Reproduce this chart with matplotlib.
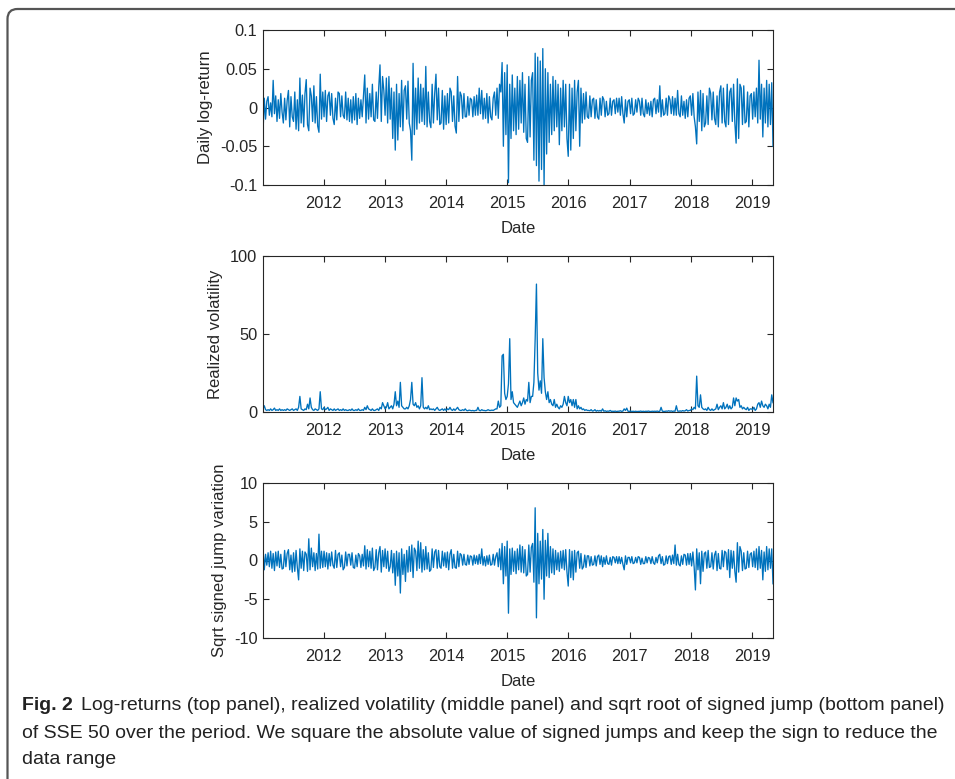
import numpy as np
import pandas as pd
import matplotlib
matplotlib.use("Agg")
import matplotlib.pyplot as plt
from matplotlib.path import Path
from matplotlib.patches import PathPatch

# ---------------- data (weekly samples) ----------------
start_date = "2011-01-04"
end_date = "2019-05-06"

# daily log-return, in units of 0.001
returns_milli = [
    # 2011
    -33, 12, -15, 8, 14, -10, 6, -12, 35, -8, 15, -18, 10, -14, 18, -6,
    -20, 12, -16, 9, 22, -25, 14, -12, -18, 20, -28, 10, -30, 38, -20, 16,
    -25, 18, 36, -22, -30, 25, 15, -18, 28, -20, 14, -24, -32, 43, -15, 20,
    # 2012
    -12, 22, -18, 15, 20, -10, 18, -14, -22, 12, -16, 20, 18, -12, 15, -10,
    -14, 20, -16, 12, -18, 10, -20, 14, -16, 18, -22, 12, -14, 10, -12, 16,
    42, -20, 25, -15, 18, -12, 30, -16, -18, 20, -14, 26, 55, -18, 40, 22,
    # 2013
    -10, 38, -20, 40, -15, 25, -40, 20, -55, 30, -42, 18, -25, 35, -30, 22,
    28, -15, 34, -20, -30, -68, 57, -35, 25, -28, 38, -20, 30, -18, 25, -22,
    53, -25, 20, -18, -26, 30, -20, 18, 43, -16, 25, -22, -20, 22, -28, 15,
    # 2014
    -22, 18, -20, 25, 20, -18, 15, -24, -33, 40, -18, 20, 15, -14, 18, -12,
    -12, 14, -10, 12, 10, -12, 14, -10, 16, -10, 25, -8, 22, -15, 12, -14,
    18, -20, 14, -12, -16, 12, 20, -10, 25, -14, 30, 20, 58, -50, 45, -35,
    # 2015
    55, -97, 30, -40, 42, -30, 25, -35, 40, -28, 35, -20, 45, -32, 30, -40,
    -45, 40, -38, 35, 45, -68, 70, -75, 65, -95, 60, -80, 76, -100, 50, -60,
    45, -45, 30, -35, 40, -30, 35, -25, 30, -48, 25, -30, 35, -25, 30, -40,
    # 2016
    -63, 30, -55, 25, -40, 35, -30, 20, 35, -50, 25, -20, 18, -15, 20, -12,
    -14, 15, -12, 10, 12, -14, 10, -12, -15, 12, -10, 14, 10, -12, 8, -10,
    -8, 12, -10, 8, 10, -8, 12, -6, 12, -10, 14, -8, -20, 10, -12, 8,
    # 2017
    10, -8, 12, -10, -8, 10, -6, 12, 8, -10, 12, -8, -12, 10, -8, 6,
    -10, 8, -12, 10, 12, -8, 10, -6, 28, -12, 10, -10, -8, 12, -10, 15,
    10, -8, 14, -10, 12, -10, 22, -8, -12, 15, -10, 8, -14, 10, -12, 12,
    # 2018
    15, -10, 18, -12, -25, -47, 20, -18, 22, -30, 18, -25, -20, 15, -22, 25,
    18, -16, 20, -14, -22, 15, -25, 20, 28, -20, 25, -18, -25, 30, -22, 20,
    25, -18, 30, -20, -46, 37, -40, 30, 25, -22, 28, -20, -18, 20, -25, 15,
    # 2019
    18, -15, 20, -12, 25, -20, 61, -15, 30, -38, 25, -20, 35, -25, 30, -22,
    32, -50,
]

# realized volatility
realized_vol = [
    # 2011
    2, 4, 1.5, 1, 1.5, 1, 2, 1, 1.5, 2.5, 1, 1.5, 1, 2, 1, 1.5,
    1, 1.5, 1, 2, 1.5, 1, 1.5, 2, 1, 1.5, 2, 1, 3, 10, 2, 1.5,
    1, 2, 1.5, 5, 2, 9, 3, 1.5, 1, 2, 1.5, 1, 2, 13, 2, 1.5,
    # 2012
    3, 1.5, 2, 3, 1, 2, 1.5, 1, 2, 1, 1.5, 2, 1, 1.5, 1, 2,
    1, 1.5, 1, 1, 1.5, 1, 2, 1, 1, 1.5, 1, 2, 1, 1, 1.5, 1,
    3, 1.5, 4, 2, 1.5, 1, 2, 1, 1, 1.5, 2, 1, 3, 2, 6, 4,
    # 2013
    2, 3, 6, 2, 3, 4, 2, 5, 13, 4, 7, 3, 19, 4, 3, 2,
    2, 3, 2, 4, 8, 19, 5, 4, 6, 3, 4, 2, 4, 22, 3, 2,
    3, 2, 4, 1.5, 2, 1.5, 2, 1, 2, 3, 1.5, 1, 1.5, 2, 1, 2,
    # 2014
    1, 2, 1.5, 3, 1.5, 1, 2, 1, 2, 3, 1.5, 1, 1, 1.5, 1, 2,
    1, 0.8, 1.2, 1, 0.8, 1, 0.7, 1, 1, 3, 1, 0.8, 1.5, 1, 1, 0.8,
    1, 1.5, 1, 1, 1.2, 1, 1.5, 2, 2, 7, 3, 4, 36, 37, 12, 8,
    # 2015
    10, 18, 47, 8, 13, 6, 5, 4, 3, 5, 7, 4, 6, 9, 5, 8,
    7, 19, 6, 10, 10, 19, 47, 82, 25, 14, 20, 12, 47, 22, 13, 8,
    13, 6, 8, 5, 4, 8, 3, 5, 3, 2, 4, 3, 5, 10, 6, 4,
    # 2016
    10, 6, 8, 4, 8, 3, 8, 2, 4, 2, 3, 1.5, 2, 1, 1.5, 1,
    1, 0.8, 1.5, 0.6, 0.8, 1.5, 0.5, 1, 0.6, 1, 0.5, 2, 0.5, 0.8, 0.4, 0.6,
    0.5, 1, 0.4, 0.5, 0.4, 0.6, 0.3, 0.5, 0.5, 0.8, 0.4, 0.6, 2, 1, 2.5, 0.5,
    # 2017
    0.4, 0.6, 0.3, 0.5, 0.3, 0.5, 0.3, 0.4, 0.4, 0.6, 0.3, 0.5, 0.3, 0.5, 0.4, 0.6,
    0.4, 0.3, 0.5, 0.4, 0.5, 0.4, 0.6, 0.3, 0.5, 3, 0.5, 0.4, 0.4, 0.6, 0.5, 0.8,
    0.5, 0.7, 0.4, 0.6, 0.5, 4, 0.6, 0.5, 0.7, 0.5, 0.9, 0.6, 0.8, 1.5, 0.6, 1,
    # 2018
    1, 2, 1.5, 3, 2, 23, 4, 3, 11, 3, 2, 1.5, 2, 1, 3, 1.5,
    1, 2, 1, 1.5, 2, 5, 1.5, 3, 4, 2, 6, 2, 3, 5, 2, 4,
    2, 3, 9, 4, 9, 7, 8, 3, 4, 2, 3, 2, 1.5, 3, 1, 2,
    # 2019
    2, 1.5, 3, 1, 2, 5, 6, 3, 7, 4, 3, 5, 4, 2, 5, 3,
    11, 6,
]

# sqrt signed jump variation
signed_jump = [
    # 2011
    1.5, -1.2, 0.8, -0.6, 1.0, -0.8, 1.2, -1.0, 0.9, -1.3, 1.1, -0.7, 1.2, -0.9, 0.8, -1.1,
    -1.0, 1.3, -0.8, 0.9, 1.4, -1.2, 0.7, -1.5, 1.0, -1.4, 1.3, -0.9, -2.5, 1.5, -1.0, 1.2,
    -1.3, 1.1, 0.8, -1.4, 2.8, -1.2, 1.6, -0.8, 1.0, -1.3, 0.9, -1.1, 3.4, -1.0, 1.2, -0.9,
    # 2012
    1.2, -0.8, 1.0, -1.1, 0.9, -0.7, 1.1, -0.6, -1.0, 1.3, -0.9, 0.8, 1.0, -0.8, 0.7, -1.2,
    -0.9, 1.1, -0.7, 0.8, 0.8, -0.6, 1.0, -0.9, -1.0, 0.7, -0.8, 0.9, 0.6, -0.9, 0.8, -0.7,
    1.9, -1.1, 1.4, -0.8, 1.2, -1.0, 1.6, -1.3, -0.9, 1.4, -1.2, 1.0, 1.8, -1.5, 1.3, -0.8,
    # 2013
    1.5, -1.0, 1.2, -1.4, -0.8, 1.3, -1.6, 0.9, -3.2, 1.2, -2.0, 1.0, -4.2, 1.5, -1.8, 0.8,
    -2.7, 1.3, -1.5, 1.8, -1.4, 2.0, -2.2, 1.6, 1.2, -1.3, 2.5, -1.0, 2.3, -1.5, 1.4, -1.2,
    1.8, -1.1, 1.0, -1.4, -1.2, 1.5, -0.9, 1.1, 1.4, -1.0, 1.3, -0.8, -1.0, 1.2, -0.7, 1.0,
    # 2014
    -0.9, 1.1, -1.2, 0.8, 1.4, -1.0, 0.8, -0.9, -1.0, 1.2, -0.8, 0.9, 0.7, -0.6, 0.8, -0.5,
    -0.6, 0.7, -0.5, 0.6, 0.5, -0.6, 0.7, -0.4, 0.6, -0.5, 0.8, -0.4, 1.5, -0.6, 0.5, -0.7,
    0.6, -0.5, 0.7, -0.6, -0.5, 0.8, -0.6, 0.5, 1.0, -0.8, 1.5, -1.2, 2.2, -3.0, 1.8, -2.0,
    # 2015
    2.5, -6.8, 1.5, -1.8, 1.6, -1.4, 1.2, -1.7, 1.5, -1.2, 2.0, -1.5, 1.8, -1.6, 1.4, -2.0,
    -1.8, 2.0, -1.5, 1.7, 2.2, -2.8, 6.8, -7.4, 3.5, -3.0, 2.5, -2.4, 4.0, -5.0, 2.6, -2.0,
    3.5, -2.2, 1.8, -1.6, 1.5, -1.8, 1.3, -1.2, 1.0, -1.4, 1.2, -1.0, 1.3, -1.2, 1.4, -1.5,
    # 2016
    -3.3, 1.4, -2.2, 1.2, -2.5, 1.3, -1.5, 1.0, 1.2, -1.0, 0.9, -1.1, -0.8, 0.7, -0.9, 0.6,
    0.6, -0.7, 0.5, -0.6, -0.5, 0.6, -0.7, 0.5, 0.7, -0.5, 0.6, -0.8, 0.4, -0.5, 0.6, -0.4,
    -0.5, 0.4, -0.6, 0.5, 0.4, -0.3, 0.5, -0.4, 0.5, -0.4, 0.4, -0.5, -1.2, 0.6, -0.5, 0.4,
    # 2017
    0.4, -0.3, 0.5, -0.4, -0.3, 0.4, -0.3, 0.5, 0.4, -0.5, 0.3, -0.4, -0.4, 0.5, -0.3, 0.4,
    0.3, -0.4, 0.5, -0.3, -0.5, 0.4, -0.3, 0.6, 0.8, -0.4, 0.5, -0.6, -0.5, 0.6, -0.4, 0.5,
    0.6, -0.5, 0.7, -0.4, 2.0, -0.6, 0.8, -0.5, -0.7, 0.6, -0.5, 0.8, 0.7, -0.6, 0.9, -0.5,
    # 2018
    0.9, -0.7, 1.1, -0.8, -3.8, 1.5, -1.2, 1.0, -3.0, 1.2, -1.4, 0.9, 1.1, -1.0, 1.3, -0.9,
    -0.8, 1.0, -1.1, 0.7, 1.2, -1.3, 0.9, -1.0, -1.1, 1.3, -0.8, 1.2, 1.0, -1.2, 1.4, -2.2,
    1.3, -1.0, 1.2, -1.4, -2.8, 2.3, -1.5, 1.8, 1.2, -1.3, 1.0, -1.1, -1.0, 1.2, -0.9, 0.8,
    # 2019
    1.0, -0.8, 1.2, -0.9, 1.5, -1.2, 1.8, -1.0, 1.3, -2.5, 1.1, -1.4, 1.8, -1.2, 1.5, -1.0,
    1.5, -3.0,
]

year_ticks = [2012, 2013, 2014, 2015, 2016, 2017, 2018, 2019]

panels = [
    dict(values=np.array(returns_milli) / 1000.0, ylabel="Daily log-return",
         ylim=(-0.1, 0.1), yticks=[-0.1, -0.05, 0, 0.05, 0.1],
         yticklabels=["-0.1", "-0.05", "0", "0.05", "0.1"]),
    dict(values=np.array(realized_vol), ylabel="Realized volatility",
         ylim=(0, 100), yticks=[0, 50, 100], yticklabels=["0", "50", "100"]),
    dict(values=np.array(signed_jump), ylabel="Sqrt signed jump variation",
         ylim=(-10, 10), yticks=[-10, -5, 0, 5, 10],
         yticklabels=["-10", "-5", "0", "5", "10"]),
]

# ---------------- figure ----------------
plt.rcParams["font.family"] = ["Liberation Sans", "DejaVu Sans"]
W, H = 955, 779
fig = plt.figure(figsize=(W / 100, H / 100), dpi=100)

line_color = "#0072BD"
axis_color = "#262626"

ax_left = 263 / W
ax_width = (773 - 263) / W
tops = [30, 256, 483]
bottoms = [185, 412, 638]

for p, top, bot in zip(panels, tops, bottoms):
    ax = fig.add_axes([ax_left, 1 - bot / H, ax_width, (bot - top) / H])
    vals = p["values"]
    dates = pd.date_range(start_date, end_date, periods=len(vals))
    ax.plot(dates, vals, color=line_color, lw=0.95)
    ax.set_xlim(pd.Timestamp(start_date), pd.Timestamp(end_date))
    ax.set_ylim(*p["ylim"])
    ax.set_yticks(p["yticks"])
    ax.set_yticklabels(p["yticklabels"])
    ax.set_xticks([pd.Timestamp(f"{y}-01-01") for y in year_ticks])
    ax.set_xticklabels([str(y) for y in year_ticks])
    ax.tick_params(direction="in", length=4, width=0.8, top=True, right=True,
                   labelsize=11.8, colors=axis_color)
    ax.tick_params(axis="x", pad=8)
    ax.tick_params(axis="y", pad=4)
    for s in ax.spines.values():
        s.set_color(axis_color)
        s.set_linewidth(0.8)
    ax.set_xlabel("Date", fontsize=12, color=axis_color, labelpad=7)
    ax.set_ylabel(p["ylabel"], fontsize=12, color=axis_color, labelpad=5)

# ---------------- frame (rounded top-left corner) ----------------
r = 10
x0, y0 = 7.5, 9
verts = [(x0, H), (x0, y0 + r), (x0, y0), (x0 + r, y0), (W, y0)]
codes = [Path.MOVETO, Path.LINETO, Path.CURVE3, Path.CURVE3, Path.LINETO]
verts_fig = [(vx / W, 1 - vy / H) for vx, vy in verts]
frame = PathPatch(Path(verts_fig, codes), transform=fig.transFigure,
                  fill=False, edgecolor="#555555", lw=1.6)
fig.patches.append(frame)

# ---------------- caption ----------------
cap_font = ["Liberation Sans", "DejaVu Sans"]
cap_size = 14.0
cap_color = "#222222"
t = fig.text(22 / W, 1 - 706 / H, "Fig. 2", fontsize=cap_size, fontweight="bold",
             family=cap_font, va="center", ha="left", color=cap_color)
fig.canvas.draw()
bb = t.get_window_extent()
fig.text((bb.x1 + 8) / W, 1 - 706 / H,
         "Log-returns (top panel), realized volatility (middle panel) and sqrt root of signed jump (bottom panel)",
         fontsize=cap_size, family=cap_font, va="center", ha="left", color=cap_color)
fig.text(22 / W, 1 - 733 / H,
         "of SSE 50 over the period. We square the absolute value of signed jumps and keep the sign to reduce the",
         fontsize=cap_size, family=cap_font, va="center", ha="left", color=cap_color)
fig.text(22 / W, 1 - 760 / H, "data range",
         fontsize=cap_size, family=cap_font, va="center", ha="left", color=cap_color)

fig.savefig("out.png", dpi=100)
